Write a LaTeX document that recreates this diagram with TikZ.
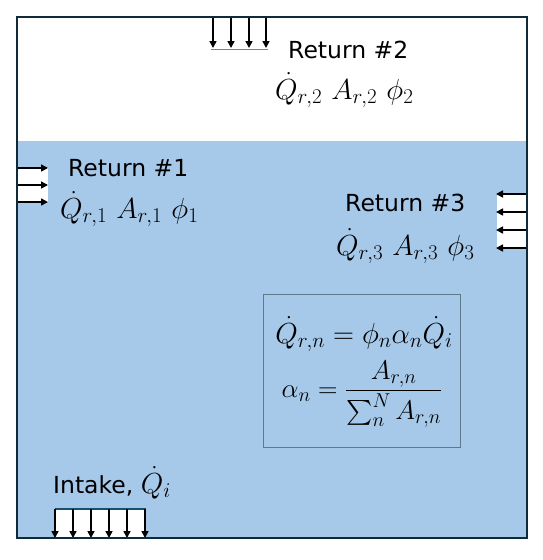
\RequirePackage{fix-cm}
\documentclass[tikz,border=0pt]{standalone}
\usepackage{amsmath}
\usepackage[no-math]{fontspec}
\setmainfont{DejaVu Sans}
\usetikzlibrary{arrows.meta}
\DeclareMathSizes{29}{29}{21}{16}
\DeclareMathSizes{27}{27}{20}{15}
\definecolor{border}{RGB}{16,42,58}
\definecolor{water}{RGB}{166,201,234}
\definecolor{boxedge}{RGB}{95,120,138}
\definecolor{intakeedge}{RGB}{24,80,115}
\begin{document}
\begin{tikzpicture}[x=1pt,y=-1pt,
  flow/.style={-{Triangle[length=7pt,width=7pt]}, line width=1.6pt, black},
  lbl/.style={font=\fontsize{23.5}{26}\selectfont, inner sep=0pt, anchor=base west},
  mth/.style={font=\fontsize{29}{32}\selectfont, inner sep=0pt, anchor=base west}]
\useasboundingbox (0,0) rectangle (543,560);
\fill[white] (0,0) rectangle (543,560);
\fill[water] (18,141) rectangle (526,538);
% Return 1 inlet
\fill[white] (18,168) rectangle (48,202);
\foreach \y in {168,185,202} \draw[flow] (18,\y) -- (48,\y);
% Return 3 inlet
\fill[white] (497,194) rectangle (526,248);
\foreach \y in {194,212,230,248} \draw[flow] (526,\y) -- (496,\y);
% Return 2 inlet
\draw[gray, line width=1pt] (211,49) -- (268,49);
\foreach \x in {213,231,249,266} \draw[flow] (\x,17) -- (\x,48);
% Intake
\fill[white] (55,509) rectangle (146,538);
\draw[intakeedge, line width=1.5pt] (55,509) -- (146,509);
\foreach \x in {55,73,91,109,127,145} \draw[flow] (\x,509) -- (\x,538);
% Formula box
\node (formula) [draw=boxedge, line width=1pt, fill=water, minimum width=197pt, minimum height=153pt, inner sep=0pt] at (361.5,370.5) {};
\node (eq1) [mth, anchor=base] at (364,343) {$\dot{Q}_{r,n} = \phi_n \alpha_n \dot{Q}_i$};
\node (eq2) [mth, font=\fontsize{27}{30}\selectfont, anchor=center] at (362,394) {$\alpha_n = \dfrac{A_{r,n}}{\sum_n^N A_{r,n}}$};
% Labels
\node (r2) [lbl] at (288,58) {Return \#2};
\node (r2m) [mth] at (275,99) {$\dot{Q}_{r,2}\ A_{r,2}\ \phi_2$};
\node (r1) [lbl] at (68,176) {Return \#1};
\node (r1m) [mth] at (60,218) {$\dot{Q}_{r,1}\ A_{r,1}\ \phi_1$};
\node (r3) [lbl] at (345,211) {Return \#3};
\node (r3m) [mth] at (336,255) {$\dot{Q}_{r,3}\ A_{r,3}\ \phi_3$};
\node (intake) [lbl] at (53,493) {Intake, {\fontsize{29}{32}\selectfont$\dot{Q}_i$}};
% Outer border
\draw[border, line width=2.5pt] (17,17) rectangle (527,538);
\end{tikzpicture}
\end{document}
